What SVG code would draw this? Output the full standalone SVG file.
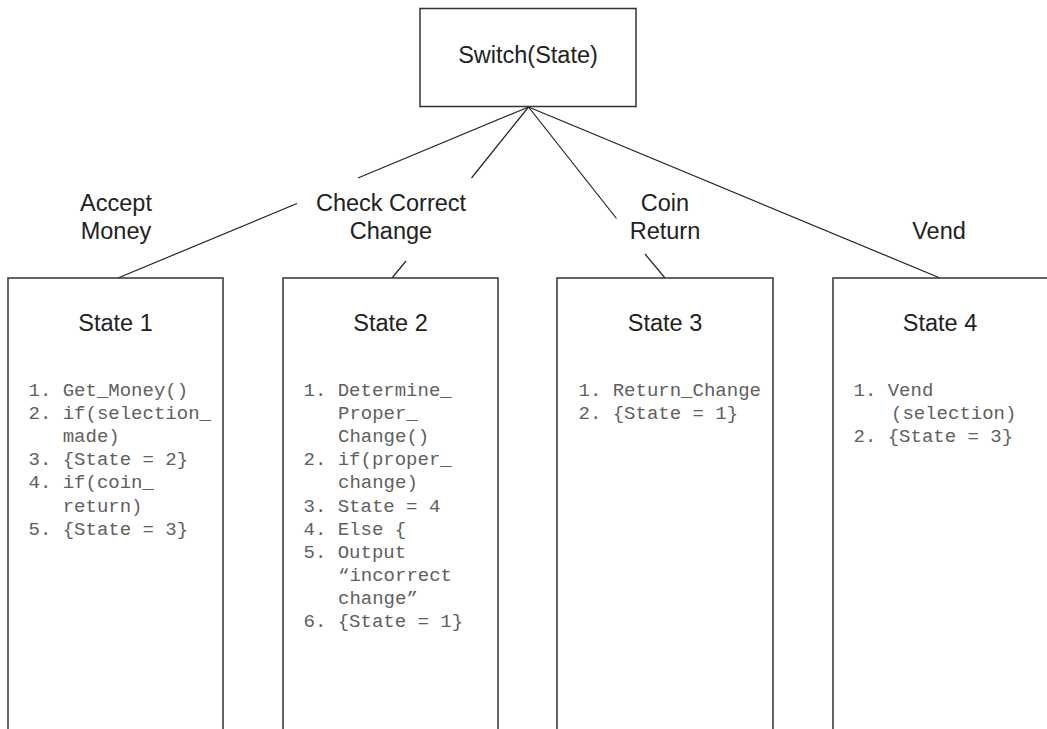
<svg xmlns="http://www.w3.org/2000/svg" width="1047" height="729" viewBox="0 0 1047 729">
<style>
.box{fill:#fff;stroke:#333;stroke-width:1.5}
.conn{stroke:#222;stroke-width:1.2;fill:none}
.lbl{font-family:"Liberation Sans",Arial,sans-serif;font-size:23.5px;fill:#222;text-anchor:middle}
.code{font-family:"Liberation Mono","Courier New",monospace;font-size:19px;fill:#606060}
</style>
<rect width="1047" height="729" fill="#fff"/>
<g id="connectors">
<line class="conn" x1="528.5" y1="107" x2="358" y2="178"/>
<line class="conn" x1="297" y1="203.5" x2="118" y2="278"/>
<line class="conn" x1="528.5" y1="107" x2="471.5" y2="178"/>
<line class="conn" x1="406" y1="261" x2="392" y2="278"/>
<line class="conn" x1="528.5" y1="107" x2="616.5" y2="218.5"/>
<line class="conn" x1="645" y1="254" x2="665" y2="278"/>
<line class="conn" x1="528.5" y1="107" x2="940" y2="278"/>
<text class="lbl" x="116" y="211">Accept</text>
<text class="lbl" x="116" y="239">Money</text>
<text class="lbl" x="391" y="211">Check Correct</text>
<text class="lbl" x="391" y="239">Change</text>
<text class="lbl" x="665" y="211">Coin</text>
<text class="lbl" x="665" y="239">Return</text>
<text class="lbl" x="939" y="239">Vend</text>
</g>
<g id="switch">
<rect class="box" x="420" y="8.5" width="216" height="98"/>
<text class="lbl" x="528" y="63">Switch(State)</text>
</g>
<g id="state1">
<rect class="box" x="8" y="278" width="215" height="480"/>
<text class="lbl" x="115.5" y="331">State 1</text>
<text class="code" x="28.5" y="396">1. Get_Money()</text>
<text class="code" x="28.5" y="419">2. if(selection_</text>
<text class="code" x="62.7" y="442">made)</text>
<text class="code" x="28.5" y="465">3. {State = 2}</text>
<text class="code" x="28.5" y="488">4. if(coin_</text>
<text class="code" x="62.7" y="511.5">return)</text>
<text class="code" x="28.5" y="534.5">5. {State = 3}</text>
</g>
<g id="state2">
<rect class="box" x="283" y="278" width="215" height="480"/>
<text class="lbl" x="390.5" y="331">State 2</text>
<text class="code" x="303.5" y="396">1. Determine_</text>
<text class="code" x="338" y="419">Proper_</text>
<text class="code" x="338" y="442">Change()</text>
<text class="code" x="303.5" y="465">2. if(proper_</text>
<text class="code" x="338" y="488">change)</text>
<text class="code" x="303.5" y="511.5">3. State = 4</text>
<text class="code" x="303.5" y="534.5">4. Else {</text>
<text class="code" x="303.5" y="557.5">5. Output</text>
<text class="code" x="338" y="580.5">“incorrect</text>
<text class="code" x="338" y="603.5">change”</text>
<text class="code" x="303.5" y="627">6. {State = 1}</text>
</g>
<g id="state3">
<rect class="box" x="557" y="278" width="216" height="480"/>
<text class="lbl" x="665" y="331">State 3</text>
<text class="code" x="578.5" y="396">1. Return_Change</text>
<text class="code" x="578.5" y="419">2. {State = 1}</text>
</g>
<g id="state4">
<rect class="box" x="833" y="278" width="216" height="480"/>
<text class="lbl" x="940" y="331">State 4</text>
<text class="code" x="853.5" y="396">1. Vend</text>
<text class="code" x="891" y="419">(selection)</text>
<text class="code" x="853.5" y="442">2. {State = 3}</text>
</g>
</svg>
